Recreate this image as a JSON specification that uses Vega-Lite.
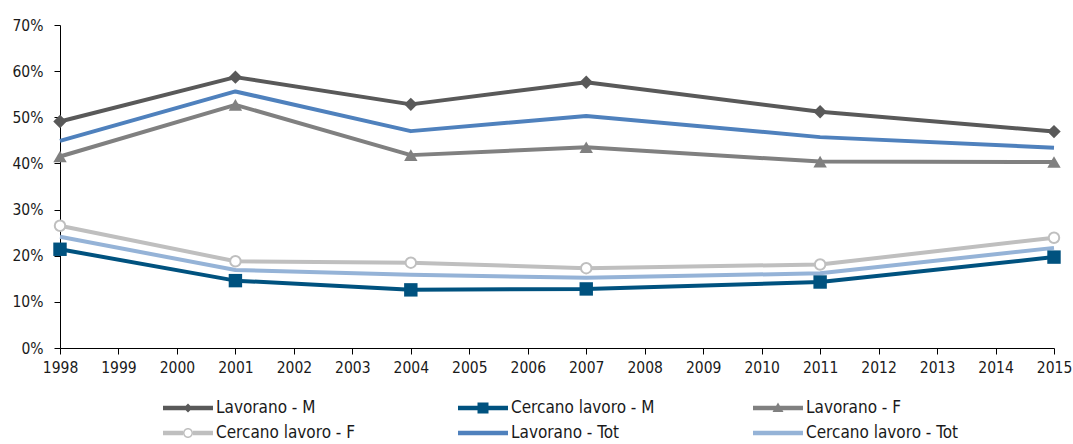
{
  "$schema": "https://vega.github.io/schema/vega-lite/v6.json",
  "width": 994,
  "height": 323,
  "autosize": {"type": "none"},
  "padding": {"left": 60, "top": 25, "right": 19, "bottom": 96},
  "background": "white",
  "config": {
    "view": {"stroke": null},
    "font": "Liberation Sans Narrow, DejaVu Sans Condensed, Liberation Sans, sans-serif",
    "axis": {
      "labelFont": "Liberation Sans Narrow, DejaVu Sans Condensed, Liberation Sans, sans-serif",
      "labelFontSize": 15.5,
      "labelColor": "#1a1a1a",
      "domainColor": "#000000",
      "tickColor": "#000000",
      "domainWidth": 1,
      "tickWidth": 1,
      "tickSize": 6,
      "grid": false,
      "title": null
    },
    "legend": {
      "labelFont": "Liberation Sans Narrow, DejaVu Sans Condensed, Liberation Sans, sans-serif",
      "labelFontSize": 17,
      "labelColor": "#1a1a1a"
    }
  },
  "data": {
    "values": [
      {"year": 1998, "series": "Lavorano - M", "value": 0.491},
      {"year": 2001, "series": "Lavorano - M", "value": 0.587},
      {"year": 2004, "series": "Lavorano - M", "value": 0.528},
      {"year": 2007, "series": "Lavorano - M", "value": 0.576},
      {"year": 2011, "series": "Lavorano - M", "value": 0.512},
      {"year": 2015, "series": "Lavorano - M", "value": 0.469},
      {"year": 1998, "series": "Cercano lavoro - M", "value": 0.214},
      {"year": 2001, "series": "Cercano lavoro - M", "value": 0.146},
      {"year": 2004, "series": "Cercano lavoro - M", "value": 0.126},
      {"year": 2007, "series": "Cercano lavoro - M", "value": 0.128},
      {"year": 2011, "series": "Cercano lavoro - M", "value": 0.143},
      {"year": 2015, "series": "Cercano lavoro - M", "value": 0.197},
      {"year": 1998, "series": "Lavorano - F", "value": 0.415},
      {"year": 2001, "series": "Lavorano - F", "value": 0.527},
      {"year": 2004, "series": "Lavorano - F", "value": 0.418},
      {"year": 2007, "series": "Lavorano - F", "value": 0.435},
      {"year": 2011, "series": "Lavorano - F", "value": 0.404},
      {"year": 2015, "series": "Lavorano - F", "value": 0.403},
      {"year": 1998, "series": "Cercano lavoro - F", "value": 0.265},
      {"year": 2001, "series": "Cercano lavoro - F", "value": 0.188},
      {"year": 2004, "series": "Cercano lavoro - F", "value": 0.185},
      {"year": 2007, "series": "Cercano lavoro - F", "value": 0.173},
      {"year": 2011, "series": "Cercano lavoro - F", "value": 0.181},
      {"year": 2015, "series": "Cercano lavoro - F", "value": 0.239},
      {"year": 1998, "series": "Lavorano - Tot", "value": 0.449},
      {"year": 2001, "series": "Lavorano - Tot", "value": 0.556},
      {"year": 2004, "series": "Lavorano - Tot", "value": 0.470},
      {"year": 2007, "series": "Lavorano - Tot", "value": 0.503},
      {"year": 2011, "series": "Lavorano - Tot", "value": 0.457},
      {"year": 2015, "series": "Lavorano - Tot", "value": 0.434},
      {"year": 1998, "series": "Cercano lavoro - Tot", "value": 0.241},
      {"year": 2001, "series": "Cercano lavoro - Tot", "value": 0.169},
      {"year": 2004, "series": "Cercano lavoro - Tot", "value": 0.159},
      {"year": 2007, "series": "Cercano lavoro - Tot", "value": 0.152},
      {"year": 2011, "series": "Cercano lavoro - Tot", "value": 0.162},
      {"year": 2015, "series": "Cercano lavoro - Tot", "value": 0.217}
    ]
  },
  "encoding": {
    "x": {
      "field": "year",
      "type": "quantitative",
      "scale": {"domain": [1998, 2015], "nice": false, "zero": false},
      "axis": {
        "values": [1998, 1999, 2000, 2001, 2002, 2003, 2004, 2005, 2006, 2007, 2008, 2009, 2010, 2011, 2012, 2013, 2014, 2015],
        "format": "d",
        "labelPadding": 6,
        "labelOverlap": false,
        "labelFlush": false
      }
    },
    "y": {
      "field": "value",
      "type": "quantitative",
      "scale": {"domain": [0, 0.7], "nice": false},
      "axis": {
        "values": [0, 0.1, 0.2, 0.3, 0.4, 0.5, 0.6, 0.7],
        "format": ".0%",
        "labelPadding": 11
      }
    },
    "color": {
      "field": "series",
      "type": "nominal",
      "scale": {
        "domain": ["Lavorano - M", "Cercano lavoro - M", "Lavorano - F", "Cercano lavoro - F", "Lavorano - Tot", "Cercano lavoro - Tot"],
        "range": ["#595959", "#00527F", "#808080", "#BFBFBF", "#4F81BD", "#95B3D7"]
      }
    }
  },
  "layer": [
    {
      "mark": {"type": "line", "strokeWidth": 4, "strokeJoin": "round"},
      "encoding": {
        "color": {
          "field": "series",
          "type": "nominal",
          "legend": {
            "title": null,
            "orient": "none",
            "legendX": 103,
            "legendY": 373,
            "direction": "horizontal",
            "columns": 3,
            "columnPadding": 89,
            "rowPadding": 5,
            "gridAlign": "all",
            "padding": 0,
            "clipHeight": 20,
            "symbolSize": 2500,
            "symbolStrokeWidth": 0,
            "labelOffset": 3,
            "encode": {
              "symbols": {
                "update": {
                  "shape": {"signal": "datum.value === 'Lavorano - M' ? 'M-1,-0.09L1,-0.09L1,0.09L-1,0.09Z M-0.18,0L0,-0.18L0.18,0L0,0.18Z' : datum.value === 'Cercano lavoro - M' ? 'M-1,-0.09L1,-0.09L1,0.09L-1,0.09Z M-0.22,-0.22L0.22,-0.22L0.22,0.22L-0.22,0.22Z' : datum.value === 'Lavorano - F' ? 'M-1,-0.09L1,-0.09L1,0.09L-1,0.09Z M0,-0.22L0.22,0.16L-0.22,0.16Z' : datum.value === 'Cercano lavoro - F' ? 'M-1,-0.09L-0.2,-0.09L-0.2,0.09L-1,0.09Z M0.2,-0.09L1,-0.09L1,0.09L0.2,0.09Z M0.2,0A0.2,0.2 0 1,1 -0.2,0A0.2,0.2 0 1,1 0.2,0Z M0.14,0A0.14,0.14 0 1,0 -0.14,0A0.14,0.14 0 1,0 0.14,0Z' : 'M-1,-0.09L1,-0.09L1,0.09L-1,0.09Z'"},
                  "fill": {"signal": "scale('color', datum.value)"},
                  "stroke": {"value": "transparent"},
                  "strokeWidth": {"value": 0},
                  "opacity": {"value": 1}
                }
              }
            }
          }
        }
      }
    },
    {
      "transform": [{"filter": {"field": "series", "oneOf": ["Lavorano - M", "Cercano lavoro - M", "Lavorano - F"]}}],
      "mark": {"type": "point", "filled": true, "opacity": 1, "size": 180},
      "encoding": {
        "color": {"field": "series", "type": "nominal", "legend": null},
        "shape": {
          "field": "series",
          "type": "nominal",
          "scale": {"domain": ["Lavorano - M", "Cercano lavoro - M", "Lavorano - F"], "range": ["diamond", "square", "triangle-up"]},
          "legend": null
        }
      }
    },
    {
      "transform": [{"filter": {"field": "series", "equal": "Cercano lavoro - F"}}],
      "mark": {"type": "point", "shape": "circle", "filled": false, "fill": "white", "fillOpacity": 1, "opacity": 1, "strokeWidth": 2, "size": 110},
      "encoding": {
        "stroke": {"field": "series", "type": "nominal", "scale": {"domain": ["Lavorano - M", "Cercano lavoro - M", "Lavorano - F", "Cercano lavoro - F", "Lavorano - Tot", "Cercano lavoro - Tot"], "range": ["#595959", "#00527F", "#808080", "#BFBFBF", "#4F81BD", "#95B3D7"]}, "legend": null}
      }
    }
  ]
}
